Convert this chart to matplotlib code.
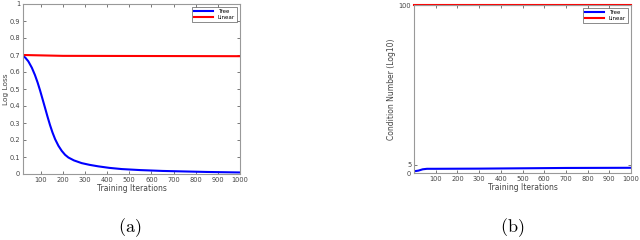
import numpy as np
import matplotlib
matplotlib.use('Agg')
import matplotlib.pyplot as plt

plt.rcParams['mathtext.fontset'] = 'cm'

# (a) log loss
iters_a = [20, 30, 44, 60, 74, 86, 97, 108, 120, 131, 142, 153, 165, 180, 195, 210, 225, 250, 285, 320, 360, 410, 466, 550, 650, 750, 850, 1000]
tree_loss = [0.694, 0.685, 0.663, 0.625, 0.582, 0.538, 0.492, 0.442, 0.387, 0.336, 0.288, 0.245, 0.205, 0.166, 0.136, 0.113, 0.097, 0.08, 0.064, 0.054, 0.045, 0.036, 0.029, 0.023, 0.018, 0.015, 0.012, 0.009]
linear_iters = [20, 200, 1000]
linear_loss = [0.70, 0.695, 0.693]

# (b) condition number
iters_b = [0, 20, 40, 60, 100, 300, 500, 700, 1000]
tree_cond = [1.0, 1.4, 2.2, 2.5, 2.5, 2.6, 2.8, 3.0, 3.1]
linear_cond = [100, 100, 100, 100, 100, 100, 100, 100, 100]

xticks = [100, 200, 300, 400, 500, 600, 700, 800, 900, 1000]

fig = plt.figure(figsize=(6.4, 2.4), dpi=100)
ax1 = fig.add_axes([23/640, 66/240, 217/640, 170/240])
ax2 = fig.add_axes([414/640, 67/240, 217/640, 168/240])

def style(ax):
    ax.tick_params(direction='in', top=True, right=True, labelsize=4.8, length=2,
                   width=0.5, colors='#444444', pad=2)
    for s in ax.spines.values():
        s.set_color('#999999')
        s.set_linewidth(0.8)

def add_legend(ax):
    leg = ax.legend(loc='upper right', fontsize=4, frameon=True, fancybox=False,
                    handlelength=3.5, borderpad=0.3, labelspacing=0.2, borderaxespad=0.6)
    leg.get_frame().set_edgecolor('#333333')
    leg.get_frame().set_linewidth(0.5)

ax1.plot(iters_a, tree_loss, color='blue', lw=1.5, label='Tree')
ax1.plot(linear_iters, linear_loss, color='red', lw=1.5, label='Linear')
ax1.set_xlim(20, 1000)
ax1.set_ylim(0, 1)
ax1.set_xticks(xticks)
ax1.set_yticks(np.arange(0, 1.01, 0.1))
ax1.set_yticklabels(['0', '0.1', '0.2', '0.3', '0.4', '0.5', '0.6', '0.7', '0.8', '0.9', '1'])
ax1.set_xlabel('Training Iterations', fontsize=5.5, color='#444444', labelpad=1)
ax1.set_ylabel('Log Loss', fontsize=5.3, color='#444444', labelpad=0.5)
style(ax1)
add_legend(ax1)

ax2.plot(iters_b, tree_cond, color='blue', lw=1.5, label='Tree')
ax2.plot(iters_b, linear_cond, color='red', lw=1.5, label='Linear', clip_on=False)
ax2.set_xlim(0, 1000)
ax2.set_ylim(0, 100)
ax2.set_xticks(xticks)
ax2.set_yticks([0, 5, 100])
ax2.set_xlabel('Training Iterations', fontsize=5.5, color='#444444', labelpad=1)
ax2.set_ylabel('Condition Number (Log10)', fontsize=5.5, color='#444444', labelpad=2)
style(ax2)
add_legend(ax2)

fig.text(130/640, 1 - 228/240, r'$(\mathrm{a})$', fontsize=13, ha='center', va='center')
fig.text(512/640, 1 - 228/240, r'$(\mathrm{b})$', fontsize=13, ha='center', va='center')

fig.savefig('out.png', dpi=100)
